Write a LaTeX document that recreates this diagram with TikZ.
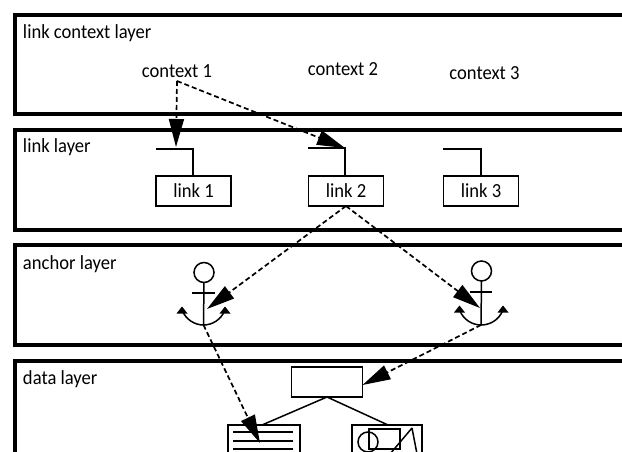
\documentclass[tikz,border=0pt]{standalone}
\usepackage{fontspec}
\setmainfont[FakeStretch=0.93]{Carlito}
\usetikzlibrary{arrows.meta}
\tikzset{
 every node/.append style={outer sep=0pt},
 layer/.style={draw=black,line width=4pt,fill=none,anchor=north west,inner sep=0pt},
 layerlabel/.style={anchor=base west,inner sep=0pt,font=\fontsize{20}{22}\selectfont},
 ctxlabel/.style={anchor=base,inner sep=0pt,font=\fontsize{20}{22}\selectfont},
 linkbox/.style={draw=black,line width=1.5pt,minimum width=75pt,minimum height=30pt,inner sep=0pt,font=\fontsize{20}{22}\selectfont},
 thin shape/.style={draw=black,line width=1.5pt},
 link line/.style={draw=black,line width=1.7pt,dash pattern=on 5pt off 3pt},
 link arrow/.style={link line,-{Triangle[length=28pt,width=15pt,sep=0pt]}},
 small head/.style={fill=black,draw=none},
 ring/.style={circle,draw=black,line width=1.5pt,minimum size=20pt,inner sep=0pt},
}
\begin{document}
\begin{tikzpicture}[x=1pt,y=-1pt]
\clip (0,0) rectangle (622,452);
\fill[white] (0,0) rectangle (622,452);
% layers
\node[layer,minimum width=640pt,minimum height=99pt] (L1) at (14.5,15.3) {};
\node[layer,minimum width=640pt,minimum height=99.5pt] (L2) at (14.5,130.3) {};
\node[layer,minimum width=640pt,minimum height=99.5pt] (L3) at (14.5,245.3) {};
\node[layer,minimum width=640pt,minimum height=140pt] (L4) at (14.5,360.7) {};
\node[layerlabel] (t1) at (23,39) {link context layer};
\node[layerlabel] (t2) at (23,153) {link layer};
\node[layerlabel] (t3) at (23,269) {anchor layer};
\node[layerlabel] (t4) at (23,384) {data layer};
% contexts
\node[ctxlabel] (c1) at (177,78) {context 1};
\node[ctxlabel] (c2) at (343,75.5) {context 2};
\node[ctxlabel] (c3) at (484.5,80) {context 3};
\coordinate (c1o) at (177,81);
% links
\node[linkbox] (k1) at (193.5,191) {link 1};
\node[linkbox] (k2) at (346,191) {link 2};
\node[linkbox] (k3) at (481,191) {link 3};
\coordinate (f1) at (193,149);
\coordinate (f2) at (345,148);
\coordinate (f3) at (481,149);
\draw[thin shape] (156,149) -- (f1) -- (k1.north -| f1);
\draw[thin shape] (308,148) -- (f2) -- (k2.north -| f2);
\draw[thin shape] (443,149) -- (f3) -- (k3.north -| f3);
% anchors
\node[ring] (r1) at (204,272.5) {};
\node[ring] (r2) at (481.5,271) {};
\coordinate (b1) at (203.5,325);
\coordinate (b2) at (481,325);
\draw[thin shape] (r1.south) -- (b1);
\draw[thin shape] (r2.south) -- (b2);
\draw[thin shape] (192,293) -- (215,293);
\draw[thin shape] (470,292) -- (492,292);
\draw[thin shape] (182,310) .. controls (186,320) and (195,325) .. (b1) .. controls (212,325) and (221,320) .. (225,310);
\draw[thin shape] (459.5,310) .. controls (463.5,320) and (472.5,325) .. (b2) .. controls (490,325) and (499,320) .. (503,310);
\fill[small head] (182,306.5) -- (176.5,313.5) -- (187.5,313.5) -- cycle;
\fill[small head] (225,306.5) -- (219.5,313.5) -- (230.5,313.5) -- cycle;
\fill[small head] (459.5,305.5) -- (454,312.5) -- (465,312.5) -- cycle;
\fill[small head] (503,305.5) -- (497.5,312.5) -- (508.5,312.5) -- cycle;
\coordinate (a1) at (207,309);
\coordinate (a2) at (480,308);
% data
\node[draw=black,line width=1.5pt,minimum width=71pt,minimum height=30pt,inner sep=0pt] (d) at (327,382) {};
\node[draw=black,line width=1.5pt,anchor=north west,minimum width=72pt,minimum height=60pt,inner sep=0pt] (doc) at (228,425) {};
\node[draw=black,line width=1.5pt,anchor=north west,minimum width=70pt,minimum height=60pt,inner sep=0pt] (med) at (352,425) {};
\draw[thin shape] (d.south) -- (262,425);
\draw[thin shape] (d.south) -- (388,425);
\draw[thin shape] (233,432) -- (293,432);
\draw[thin shape] (233,441) -- (293,441);
\draw[thin shape] (233,449) -- (293,449);
\node[draw=black,line width=1.5pt,anchor=north west,minimum width=31pt,minimum height=20pt,inner sep=0pt] (mr) at (369,429) {};
\node[ring] (mc) at (368,442) {};
\draw[thin shape] (412,428) -- (390,454) (412,428) -- (417,454);
% connectors
\draw[link arrow] (c1o) -- (176,147);
\draw[link arrow] (c1o) -- (f2);
\draw[link arrow] (k2.south) -- (a1);
\draw[link arrow] (k2.south) -- (a2);
\draw[link arrow] (b1) -- (260,443);
\draw[link arrow] (b2) -- (d.east |- 0,385);
\end{tikzpicture}
\end{document}
